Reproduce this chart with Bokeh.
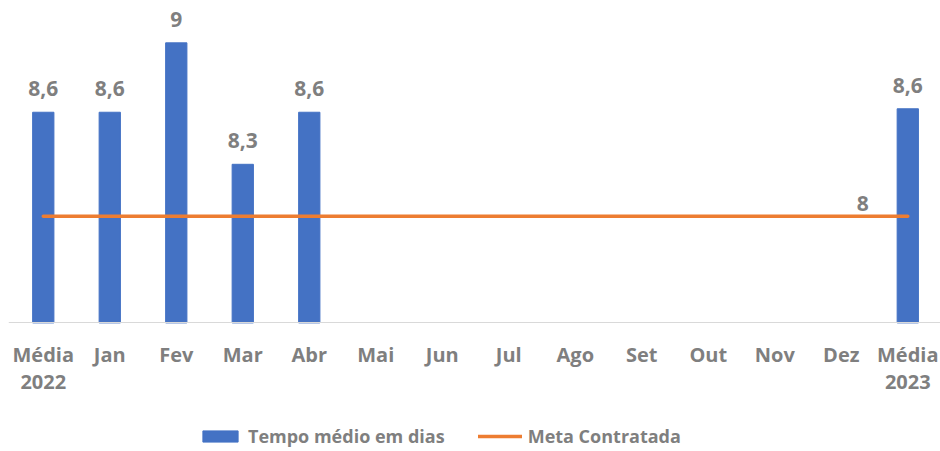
from bokeh.plotting import figure
from bokeh.models import (ColumnDataSource, FixedTicker, Legend, LegendItem, Range1d,
                          LinearAxis)
from bokeh.core.properties import value
from bokeh.embed import file_html
from bokeh.resources import INLINE

categories = ["Média 2022", "Jan", "Fev", "Mar", "Abr", "Mai", "Jun", "Jul",
              "Ago", "Set", "Out", "Nov", "Dez", "Média 2023"]
tempo_medio = [8.6, 8.6, 9.0, 8.3, 8.6, None, None, None, None, None, None, None, None, 8.62]
meta_contratada = [8, 8, 8, 8, 8, 8, 8, 8, 8, 8, 8, 8, 8, 8]
series_names = ["Tempo médio em dias", "Meta Contratada"]

AXIS_MIN = 7.386   # value axis minimum (where the category axis sits)
AXIS_MAX = 9.244

BLUE = "#4472C4"
ORANGE = "#ED7D31"
GRAY = "#7F7F7F"
FONT = "Open Sans"


def fmt(v):
    s = f"{v:.1f}".replace(".", ",")
    return s[:-2] if s.endswith(",0") else s


idx = list(range(len(categories)))
first_lines = {i: c.split(" ")[0] for i, c in zip(idx, categories)}
second_lines = {i: c.split(" ")[1] for i, c in zip(idx, categories) if " " in c}

bar_x = [i for i, v in zip(idx, tempo_medio) if v is not None]
bar_y = [v for v in tempo_medio if v is not None]
bar_src = ColumnDataSource(dict(x=bar_x, y=bar_y, label=[fmt(v) for v in bar_y]))
line_src = ColumnDataSource(dict(x=idx, y=meta_contratada))

FRAME_H = 451
PX_PER_UNIT = 322.4 / (AXIS_MAX - AXIS_MIN)
y_start = AXIS_MAX - FRAME_H / PX_PER_UNIT

p = figure(frame_width=932, frame_height=FRAME_H, output_backend="svg", toolbar_location=None,
           x_range=Range1d(-0.523, 13.492), y_range=Range1d(y_start, AXIS_MAX),
           min_border_left=8, min_border_right=0, min_border_top=0, min_border_bottom=0)
p.outline_line_color = None
p.background_fill_color = "white"
p.border_fill_color = "white"
p.xgrid.visible = False
p.ygrid.visible = False
p.yaxis.visible = False

bars = p.vbar(x="x", top="y", bottom=AXIS_MIN, width=0.32, source=bar_src,
              fill_color=BLUE, line_color=BLUE)
line = p.line(x="x", y="y", source=line_src, line_color=ORANGE, line_width=3.5,
              line_cap="round")

p.text(x="x", y="y", text="label", source=bar_src, text_align="center",
       text_baseline="alphabetic", y_offset=-23.5, text_color=GRAY,
       text_font=value(FONT), text_font_style="bold", text_font_size="21px")

last_src = ColumnDataSource(dict(x=[idx[-1]], y=[meta_contratada[-1]],
                                 label=[fmt(meta_contratada[-1])]))
p.text(x="x", y="y", text="label", source=last_src, text_align="center",
       text_baseline="alphabetic", x_offset=-45, y_offset=-13, text_color=GRAY,
       text_font=value(FONT), text_font_style="bold", text_font_size="21px")


def style_axis(a):
    a.major_tick_line_color = None
    a.major_tick_out = 0
    a.major_tick_in = 0
    a.minor_tick_line_color = None
    a.major_label_text_font = FONT
    a.major_label_text_font_style = "bold"
    a.major_label_text_font_size = "20px"
    a.major_label_text_color = GRAY


ax = p.xaxis[0]
style_axis(ax)
ax.ticker = FixedTicker(ticks=idx)
ax.major_label_overrides = first_lines
ax.axis_line_color = "#D9D9D9"
ax.axis_line_width = 1
ax.major_label_standoff = 18
ax.fixed_location = AXIS_MIN

ax2 = LinearAxis(ticker=FixedTicker(ticks=list(second_lines.keys())),
                 major_label_overrides=second_lines)
style_axis(ax2)
ax2.axis_line_color = None
ax2.major_label_standoff = 52
ax2.fixed_location = AXIS_MIN
p.add_layout(ax2, "below")

legend = Legend(items=[LegendItem(label=series_names[0], renderers=[bars]),
                       LegendItem(label=series_names[1], renderers=[line])],
                orientation="horizontal", location=(190, 3),
                border_line_color=None, background_fill_alpha=0,
                label_text_font=FONT, label_text_font_style="bold",
                label_text_font_size="18px", label_text_color=GRAY,
                glyph_width=44, glyph_height=14, label_standoff=6, spacing=33,
                padding=0, margin=0)
p.add_layout(legend)

open("out.html", "w").write(file_html(p, INLINE))
